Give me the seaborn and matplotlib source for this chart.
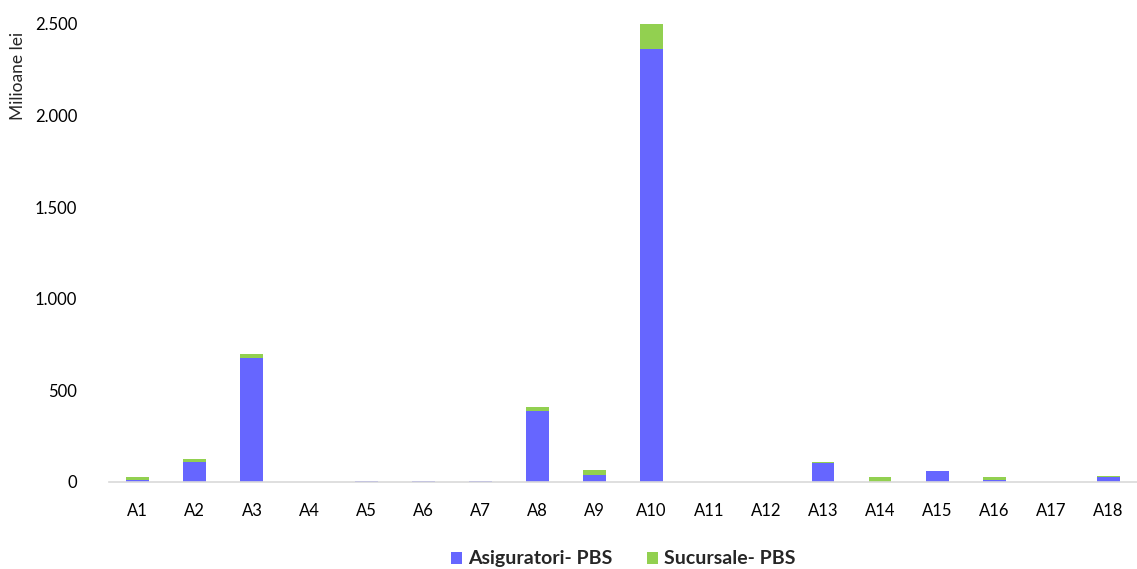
import pandas as pd
import matplotlib.pyplot as plt
import seaborn as sns
from matplotlib.ticker import FuncFormatter

# Data (milioane lei)
categories = ['A1', 'A2', 'A3', 'A4', 'A5', 'A6', 'A7', 'A8', 'A9', 'A10',
              'A11', 'A12', 'A13', 'A14', 'A15', 'A16', 'A17', 'A18']
asiguratori = [12, 110, 677, 1, 6, 3, 4, 388, 40, 2365,
               0, 0, 106, 1, 60, 12, 0, 28]
sucursale = [14, 15, 22, 0, 1, 0, 0, 20, 24, 135,
             0, 0, 2, 28, 1, 15, 0, 2]

df = pd.DataFrame({'cat': categories, 'asig': asiguratori, 'suc': sucursale})
df['total'] = df['asig'] + df['suc']

sns.set_style('white')
plt.rcParams['font.family'] = ['Lato', 'DejaVu Sans']

fig, ax = plt.subplots(figsize=(11.37, 5.69), dpi=100)

# Stacked bars: total (green) behind, the blue part drawn on top
sns.barplot(x='cat', y='total', data=df, ax=ax, color='#92D050', width=0.4,
            saturation=1, label='Sucursale- PBS', edgecolor='none')
sns.barplot(x='cat', y='asig', data=df, ax=ax, color='#6666FF', width=0.4,
            saturation=1, label='Asiguratori- PBS', edgecolor='none')

ax.set_ylim(0, 2500)
ax.set_yticks([0, 500, 1000, 1500, 2000, 2500])
ax.yaxis.set_major_formatter(FuncFormatter(lambda v, p: f'{int(v):,}'.replace(',', '.')))
ax.set_xlim(-0.5, len(categories) - 0.5)
ax.set_xlabel('')
ax.set_ylabel('Milioane lei', fontsize=12.5, loc='top')
ax.yaxis.set_label_coords(-0.081, 0.983)

for s in ['top', 'right', 'left']:
    ax.spines[s].set_visible(False)
ax.spines['bottom'].set_color('#d9d9d9')
ax.spines['bottom'].set_linewidth(1.2)
ax.tick_params(axis='both', length=0, labelsize=12, colors='#000000')
ax.tick_params(axis='y', pad=23)
ax.tick_params(axis='x', pad=15)

# Legend below the plot, blue first
handles, labels = ax.get_legend_handles_labels()
order = [labels.index('Asiguratori- PBS'), labels.index('Sucursale- PBS')]
ax.legend([handles[i] for i in order], [labels[i] for i in order],
          loc='center', bbox_to_anchor=(0.5, -0.168), ncol=2, frameon=False,
          prop={'weight': 'bold', 'size': 14}, handlelength=0.57, handleheight=0.57,
          handletextpad=0.3, columnspacing=1.8)

plt.subplots_adjust(left=0.096, right=1.0, top=0.958, bottom=0.153)
plt.savefig('out.png', dpi=100)
